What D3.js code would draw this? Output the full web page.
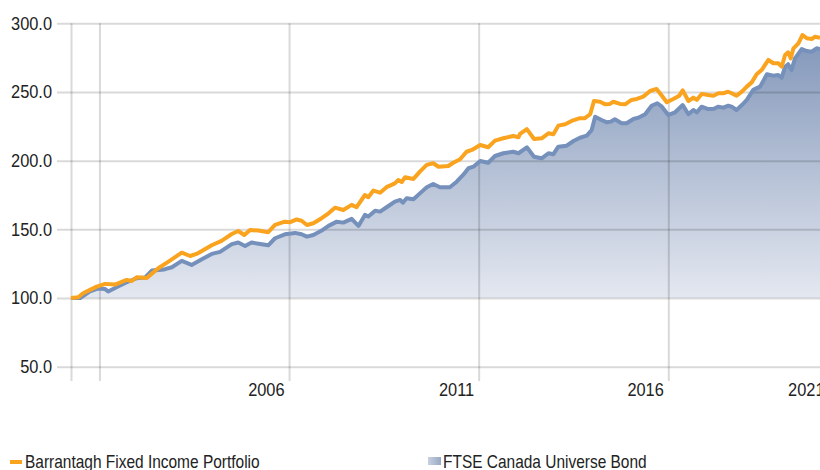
<!DOCTYPE html>
<html>
<head>
<meta charset="utf-8">
<script src="https://cdn.jsdelivr.net/npm/d3@7"></script>
<style>
  html, body { margin: 0; padding: 0; background: #fff; overflow: hidden; }
  svg { display: block; }
  text { font-family: "Liberation Sans Narrow", "Arial Narrow", "Liberation Sans", Arial, sans-serif; fill: #222; }
</style>
</head>
<body>
<svg id="chart" width="820" height="470"></svg>
<script>
// ---- Data (growth of 100) ----
const seriesNames = ["Barrantagh Fixed Income Portfolio", "FTSE Canada Universe Bond"];

const portfolioDates = [2000.25,2000.44,2000.57,2000.75,2000.93,2001.15,2001.41,2001.72,2001.85,2001.98,
  2002.25,2002.55,2002.82,2003.17,2003.39,2003.56,2003.70,2003.96,2004.22,2004.49,
  2004.66,2004.82,2004.97,2005.19,2005.45,2005.63,2005.89,2006.03,2006.20,2006.33,
  2006.47,2006.64,2006.86,2007.04,2007.21,2007.43,2007.65,2007.78,2008.00,2008.09,
  2008.22,2008.40,2008.57,2008.79,2008.88,2008.97,2009.06,2009.28,2009.45,2009.63,
  2009.80,2009.94,2010.20,2010.33,2010.51,2010.68,2010.82,2011.04,2011.25,2011.43,
  2011.65,2011.91,2012.05,2012.09,2012.27,2012.46,2012.66,2012.84,2012.97,2013.10,
  2013.28,2013.45,2013.67,2013.80,2013.94,2014.04,2014.20,2014.33,2014.46,2014.55,
  2014.73,2014.86,2015.03,2015.17,2015.34,2015.52,2015.69,2015.78,2015.96,2016.13,
  2016.29,2016.38,2016.53,2016.66,2016.75,2016.88,2017.05,2017.19,2017.32,2017.45,
  2017.58,2017.67,2017.80,2017.94,2018.07,2018.20,2018.33,2018.46,2018.64,2018.77,
  2018.90,2018.99,2019.08,2019.16,2019.23,2019.30,2019.43,2019.54,2019.65,2019.78,
  2019.87,2020.00];
const portfolioValues = [100.0,100.6,103.5,105.9,108.3,110.3,109.8,113.2,112.4,115.1,
  114.6,121.7,126.5,133.0,130.6,132.1,134.3,138.4,141.6,146.6,
  148.8,145.9,149.6,149.1,147.9,153.2,155.6,155.2,157.2,156.3,
  153.2,154.4,158.1,161.7,165.8,164.1,167.8,166.1,175.0,173.4,
  178.2,176.7,180.7,183.5,185.9,184.5,187.9,186.7,192.0,196.9,
  198.1,195.6,196.1,198.5,201.0,206.5,207.8,211.4,209.8,214.6,
  216.3,218.0,217.0,219.5,223.0,215.8,216.3,219.9,219.2,225.5,
  226.5,228.9,230.9,230.9,233.8,243.4,242.9,241.0,241.3,242.9,
  241.3,241.0,244.2,244.9,246.6,250.7,252.2,249.1,242.5,244.9,
  247.3,251.2,243.4,245.9,244.2,248.6,247.8,247.3,249.1,249.1,
  250.2,249.1,247.3,250.2,253.9,257.0,262.9,266.0,273.3,270.9,
  270.9,268.4,276.9,278.9,274.5,281.8,285.4,291.5,289.1,288.6,
  290.2,289.5];

const benchmarkDates = [2000.25,2000.49,2000.75,2000.97,2001.15,2001.23,2001.45,2001.76,2001.98,2002.20,
  2002.38,2002.64,2002.73,2002.91,2003.17,2003.43,2003.70,2003.96,2004.18,2004.49,
  2004.66,2004.84,2005.01,2005.28,2005.45,2005.63,2005.89,2006.16,2006.33,2006.47,
  2006.64,2006.86,2007.04,2007.26,2007.43,2007.65,2007.83,2008.00,2008.09,2008.27,
  2008.40,2008.62,2008.79,2008.93,2009.00,2009.10,2009.28,2009.45,2009.63,2009.80,
  2009.98,2010.24,2010.42,2010.59,2010.73,2010.86,2011.04,2011.25,2011.43,2011.65,
  2011.91,2012.05,2012.27,2012.46,2012.66,2012.84,2012.97,2013.10,2013.32,2013.50,
  2013.67,2013.85,2013.98,2014.07,2014.24,2014.38,2014.48,2014.59,2014.77,2014.90,
  2015.08,2015.21,2015.39,2015.56,2015.71,2015.83,2016.00,2016.18,2016.38,2016.53,
  2016.66,2016.75,2016.88,2017.05,2017.19,2017.32,2017.45,2017.58,2017.67,2017.80,
  2017.94,2018.07,2018.24,2018.42,2018.60,2018.77,2018.90,2018.99,2019.08,2019.16,
  2019.25,2019.34,2019.52,2019.65,2019.78,2019.91,2020.00];
const benchmarkValues = [100.0,100.0,104.8,107.0,106.5,104.8,107.9,112.0,114.4,114.9,
  120.0,120.5,121.0,122.4,127.0,124.1,128.2,132.1,133.6,139.2,
  140.4,137.9,140.4,139.2,138.4,143.5,146.4,147.4,146.4,144.7,
  145.9,149.1,152.5,155.6,154.9,157.6,152.5,160.5,159.3,163.6,
  162.9,167.0,170.2,171.4,169.4,172.6,171.9,176.2,180.6,183.0,
  180.6,180.6,184.7,189.6,194.5,195.6,199.8,198.5,203.4,205.4,
  206.5,205.4,209.7,202.9,201.7,205.4,204.7,210.2,210.9,214.3,
  216.7,218.2,222.3,232.0,229.6,227.9,228.4,230.1,227.2,227.2,
  230.3,231.3,233.8,240.0,241.8,239.3,233.3,235.2,240.5,233.8,
  236.9,235.2,239.3,237.6,237.6,239.3,238.6,240.0,239.3,236.9,
  240.5,244.2,251.5,253.9,262.9,261.9,262.4,260.4,268.4,270.2,
  266.0,274.5,281.3,279.8,279.3,281.8,281.3];

const yTickValues = [50, 100, 150, 200, 250, 300];
const xTickValues = [2000.25, 2001, 2006, 2011, 2016, 2021];
const xTickLabels = ["", "", "2006", "2011", "2016", "2021"];
const baseValue = 100;

// ---- Layout ----
const W = 820, H = 470;
const NUM_SX = 0.91, LEG_SX = 0.86;   // condensed look of the original typeface
const svg = d3.select("#chart");
const x = d3.scaleLinear().domain([2000.25, 2020.0]).range([71, 820]);
const y = d3.scaleLinear().domain([50, 300]).range([366.7, 23.3]);

const portfolio = portfolioDates.map((d, i) => ({ t: d, v: portfolioValues[i] }));
const benchmark = benchmarkDates.map((d, i) => ({ t: d, v: benchmarkValues[i] }));

// gradients
const defs = svg.append("defs");
const grad = defs.append("linearGradient").attr("id", "areaGrad")
  .attr("gradientUnits", "userSpaceOnUse")
  .attr("x1", 0).attr("x2", 0).attr("y1", y(285)).attr("y2", y(baseValue));
grad.append("stop").attr("offset", "0%").attr("stop-color", "#8599bb");
grad.append("stop").attr("offset", "100%").attr("stop-color", "#e4e8f0");

const legGrad = defs.append("linearGradient").attr("id", "legGrad")
  .attr("x1", 0).attr("x2", 1).attr("y1", 0).attr("y2", 0);
legGrad.append("stop").attr("offset", "0%").attr("stop-color", "#c9d1e0");
legGrad.append("stop").attr("offset", "100%").attr("stop-color", "#98a8c4");

// area of benchmark
svg.append("path")
  .datum(benchmark)
  .attr("fill", "url(#areaGrad)")
  .attr("d", d3.area().x(d => x(d.t)).y0(y(baseValue)).y1(d => y(d.v)));

// y grid + labels
const yAxis = svg.append("g")
  .attr("transform", "translate(57,0)")
  .call(d3.axisLeft(y).tickValues(yTickValues).tickFormat(d3.format(".1f"))
    .tickSizeInner(-(W - 57)).tickSizeOuter(0).tickPadding(5));
yAxis.select(".domain").remove();
yAxis.selectAll(".tick line").attr("stroke", "rgba(0,0,0,0.15)").attr("stroke-width", 2);
yAxis.selectAll(".tick text")
  .style("font-size", "18px").attr("fill", "#222")
  .attr("x", -5 / NUM_SX)
  .attr("transform", `scale(${NUM_SX},1)`);

// x grid + labels
const xAxis = svg.append("g")
  .attr("transform", `translate(0,${y(300)})`)
  .call(d3.axisBottom(x).tickValues(xTickValues)
    .tickFormat((d, i) => xTickLabels[i])
    .tickSizeInner(381 - y(300)).tickSizeOuter(0));
xAxis.select(".domain").remove();
xAxis.selectAll(".tick line").attr("stroke", "rgba(0,0,0,0.15)").attr("stroke-width", 2);
xAxis.selectAll(".tick text")
  .style("font-size", "18px").attr("fill", "#222")
  .attr("text-anchor", "end")
  .attr("dy", null)
  .attr("y", 396 - y(300))
  .attr("x", d => (Math.min(x(d) - 5, W + 4) - x(d)) / NUM_SX)
  .attr("transform", `scale(${NUM_SX},1)`);

// lines
const line = d3.line().x(d => x(d.t)).y(d => y(d.v));
svg.append("path").datum(benchmark)
  .attr("fill", "none").attr("stroke", "#7490bb").attr("stroke-width", 4)
  .attr("stroke-linejoin", "round").attr("d", line);
svg.append("path").datum(portfolio)
  .attr("fill", "none").attr("stroke", "#f9a31f").attr("stroke-width", 4)
  .attr("stroke-linejoin", "round").attr("d", line);

// legend
const leg = svg.append("g");
leg.append("rect").attr("x", 10).attr("y", 460).attr("width", 12).attr("height", 4).attr("fill", "#f9a31f");
leg.append("text").attr("transform", `translate(25,468) scale(${LEG_SX},1)`)
  .style("font-size", "18px").text(seriesNames[0]);
leg.append("rect").attr("x", 428).attr("y", 457).attr("width", 13).attr("height", 8).attr("fill", "url(#legGrad)");
leg.append("text").attr("transform", `translate(443,468) scale(${LEG_SX},1)`)
  .style("font-size", "18px").text(seriesNames[1]);
</script>
</body>
</html>
